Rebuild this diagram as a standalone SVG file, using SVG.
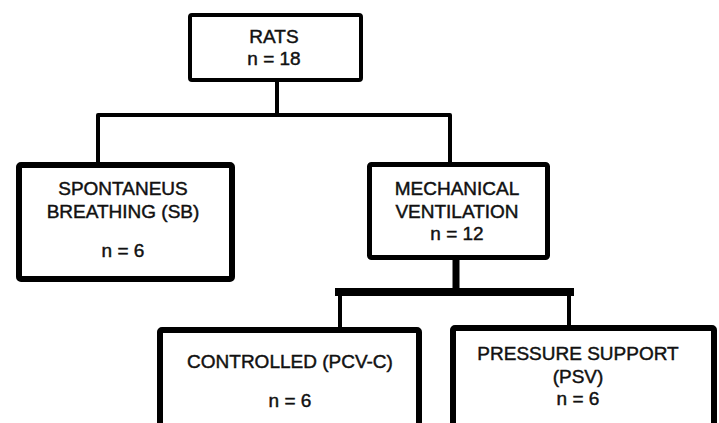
<svg xmlns="http://www.w3.org/2000/svg" width="719" height="423" viewBox="0 0 719 423">
<style>
.box{fill:#ffffff;stroke:#000000;stroke-linejoin:round}
.t{font-family:"Liberation Sans",Arial,sans-serif;font-size:19px;font-weight:normal;fill:#111111;stroke:#111111;stroke-width:0.45px;text-anchor:middle}
.c{fill:none;stroke:#000000;stroke-linejoin:round;stroke-linecap:square}
</style>
<rect width="719" height="423" fill="#ffffff"/>
<g id="connectors">
<path class="c" d="M277,82 L277,115" stroke-width="4"/>
<path class="c" d="M98,162 L98,115 L450,115 L450,162" stroke-width="4"/>
<path class="c" d="M456,260 L456,292" stroke-width="7"/>
<path class="c" d="M340,326 L340,292" stroke-width="4"/>
<path class="c" d="M569,324 L569,292" stroke-width="4"/>
<path class="c" d="M339,292 L570,292" stroke-width="8"/>
</g>
<g id="rats">
<rect class="box" x="190" y="15" width="171" height="65" rx="2" stroke-width="4"/>
<text class="t" x="274" y="43">RATS</text>
<text class="t" x="274" y="65">n = 18</text>
</g>
<g id="sb">
<rect class="box" x="19" y="165" width="213" height="114" rx="2" stroke-width="6"/>
<text class="t" x="123" y="195">SPONTANEUS</text>
<text class="t" x="123" y="218">BREATHING (SB)</text>
<text class="t" x="123" y="257">n = 6</text>
</g>
<g id="mv">
<rect class="box" x="369.5" y="164.5" width="178" height="93" rx="2" stroke-width="5"/>
<text class="t" x="457" y="195">MECHANICAL</text>
<text class="t" x="457" y="218">VENTILATION</text>
<text class="t" x="457" y="240">n = 12</text>
</g>
<g id="pcvc">
<rect class="box" x="160" y="330" width="259" height="120" rx="2" stroke-width="6"/>
<text class="t" x="290" y="368">CONTROLLED (PCV-C)</text>
<text class="t" x="290" y="407">n = 6</text>
</g>
<g id="psv">
<rect class="box" x="453" y="328" width="261" height="120" rx="2" stroke-width="6"/>
<text class="t" x="578" y="360">PRESSURE SUPPORT</text>
<text class="t" x="578" y="383">(PSV)</text>
<text class="t" x="578" y="405">n = 6</text>
</g>
</svg>
